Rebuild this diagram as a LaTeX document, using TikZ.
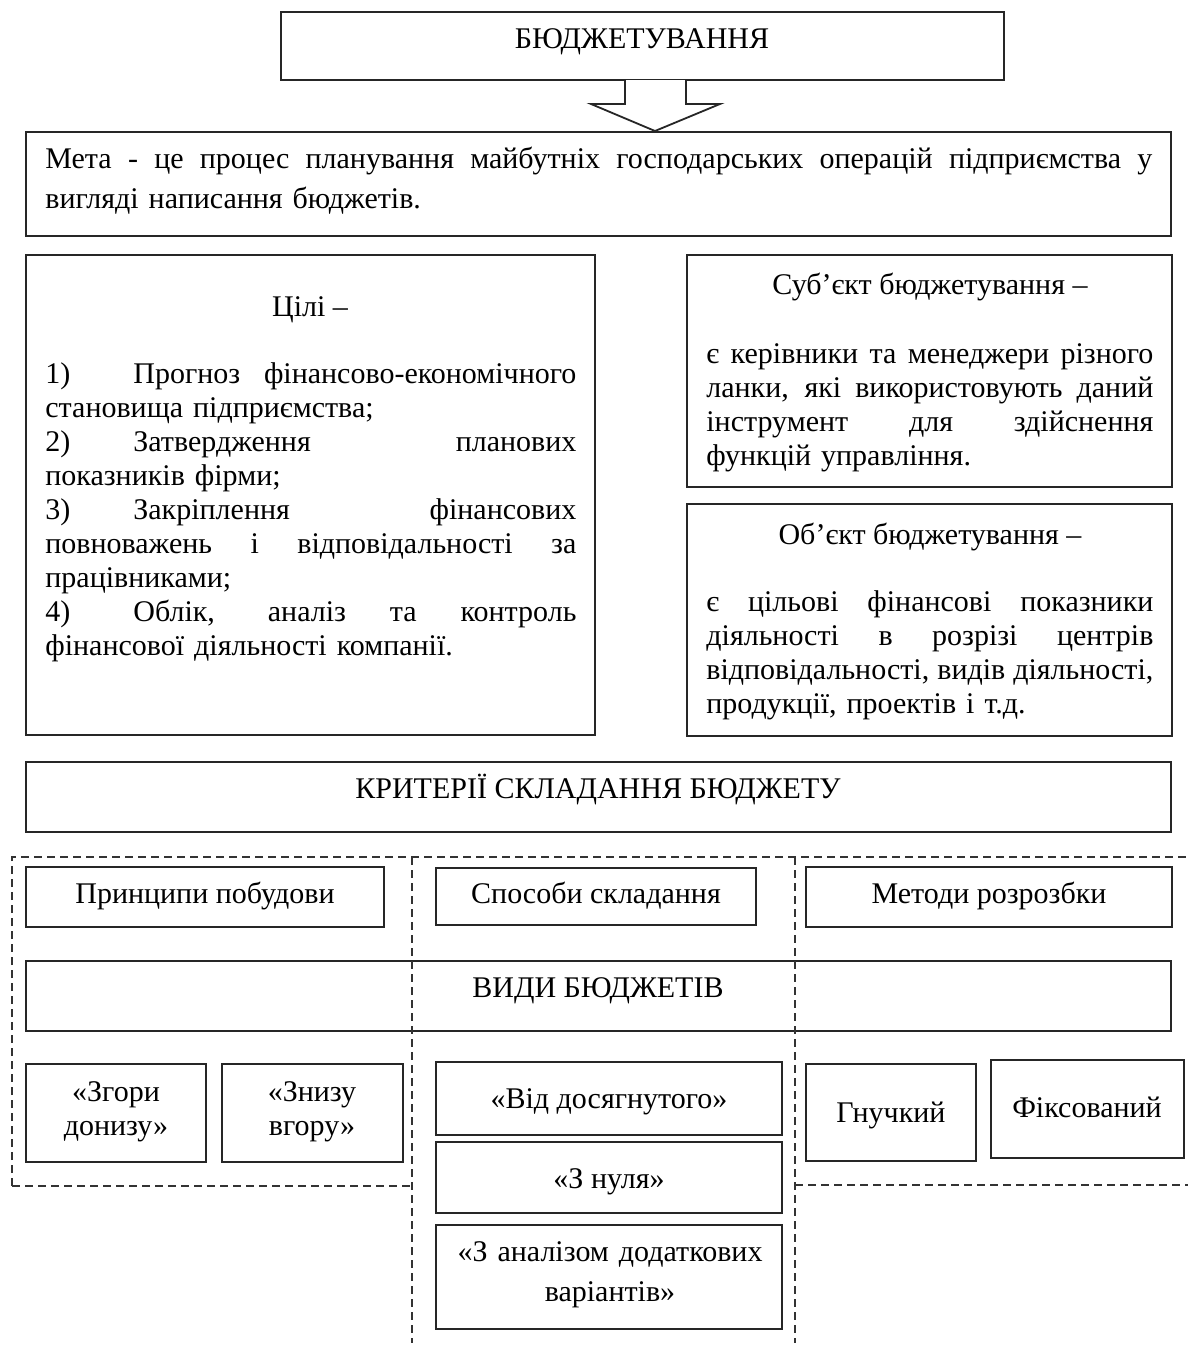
\documentclass[tikz,border=0pt]{standalone}
\usepackage{fontspec}
\setmainfont{Liberation Serif}
\usetikzlibrary{fit}
\newcommand\JL[1]{\noindent\hbox to\linewidth{\spaceskip=.25em plus 1fil\relax #1}\par}
\newcommand\LL[1]{\noindent\hbox to\linewidth{#1\hfil}\par}
\newcommand\TB[1]{\makebox[44pt][l]{#1}}
\tikzset{
  box/.style={draw=black!85, line width=1pt, inner sep=0pt},
  txt/.style={inner sep=0pt, font=\fontsize{15}{17}\selectfont},
  dsh/.style={draw=black!80, line width=0.7pt, dash pattern=on 4pt off 2.5pt},
  arr/.style={draw=black!85, line width=0.9pt, fill=white, line join=miter}
}
\begin{document}
\begin{tikzpicture}[x=0.5pt,y=-0.5pt]
\useasboundingbox (0,0) rectangle (1188,1349);

% top
\node[box, fit={(281,12)(1004,80)}] (b0) {};
\node[txt, anchor=base] (t0) at (642,48) {БЮДЖЕТУВАННЯ};

% goal
\node[box, fit={(26,132)(1171,236)}] (b1) {};
\node[txt, anchor=base west, text width=553.5pt, font=\fontsize{15}{20}\selectfont] (t1) at (45,168)
  {\JL{Мета - це процес планування майбутніх господарських операцій підприємства у}\LL{вигляді написання бюджетів.}};

\coordinate (a0) at (b0.south);
\draw[arr] (625,80) -- (625,104) -- (591,104) -- (655,131) -- (720,104) -- (686,104) -- (686,80);

% goals box
\node[box, fit={(26,255)(595,735)}] (b2) {};
\node[txt, anchor=base] (t2h) at (310,316) {Цілі –};
\node[txt, anchor=base west, text width=265.5pt] (t2) at (45,383)
  {\JL{\TB{1)}Прогноз фінансово-економічного}%
   \LL{становища підприємства;}%
   \JL{\TB{2)}Затвердження планових}%
   \LL{показників фірми;}%
   \JL{\TB{3)}Закріплення фінансових}%
   \JL{повноважень і відповідальності за}%
   \LL{працівниками;}%
   \JL{\TB{4)}Облік, аналіз та контроль}%
   \LL{фінансової діяльності компанії.}};

% subject
\node[box, fit={(687,255)(1172,487)}] (b3) {};
\node[txt, anchor=base] (t3h) at (930,294) {Суб’єкт бюджетування –};
\node[txt, anchor=base west, text width=223.5pt] (t3) at (706,363)
  {\JL{є керівники та менеджери різного}%
   \JL{ланки, які використовують даний}%
   \JL{інструмент для здійснення}%
   \LL{функцій управління.}};

% object
\node[box, fit={(687,504)(1172,736)}] (b4) {};
\node[txt, anchor=base] (t4h) at (930,544) {Об’єкт бюджетування –};
\node[txt, anchor=base west, text width=223.5pt] (t4) at (706,611)
  {\JL{є цільові фінансові показники}%
   \JL{діяльності в розрізі центрів}%
   \JL{відповідальності, видів діяльності,}%
   \LL{продукції, проектів і т.д.}};

% criteria
\node[box, fit={(26,762)(1171,832)}] (b5) {};
\node[txt, anchor=base] (t5) at (598,798) {КРИТЕРІЇ СКЛАДАННЯ БЮДЖЕТУ};

\node[box, fit={(26,867)(384,927)}] (b6) {};
\node[txt, anchor=base] (t6) at (205,903) {Принципи побудови};
\node[box, fit={(436,868)(756,925)}] (b7) {};
\node[txt, anchor=base] (t7) at (596,903) {Способи складання};
\node[box, fit={(806,867)(1172,927)}] (b8) {};
\node[txt, anchor=base] (t8) at (989,903) {Методи розрозбки};

\node[box, fit={(26,961)(1171,1031)}] (b9) {};
\node[txt, anchor=base] (t9) at (598,997) {ВИДИ БЮДЖЕТІВ};

\node[box, fit={(26,1064)(206,1162)}] (b10) {};
\node[txt, anchor=base, text width=85pt, align=center] (t10) at (116,1101) {«Згори\\донизу»};
\node[box, fit={(222,1064)(403,1162)}] (b11) {};
\node[txt, anchor=base, text width=85pt, align=center] (t11) at (312,1101) {«Знизу\\вгору»};

\node[box, fit={(436,1062)(782,1135)}] (b12) {};
\node[txt, anchor=base] (t12) at (609,1108) {«Від досягнутого»};
\node[box, fit={(436,1142)(782,1213)}] (b13) {};
\node[txt, anchor=base] (t13) at (609,1188) {«З нуля»};
\node[box, fit={(436,1225)(782,1329)}] (b14) {};
\node[txt, anchor=base, text width=165pt, align=center, font=\fontsize{15}{20}\selectfont] (t14) at (610,1261) {«З аналізом додаткових\\варіантів»};

\node[box, fit={(806,1064)(976,1161)}] (b15) {};
\node[txt, anchor=base] (t15) at (891,1122) {Гнучкий};
\node[box, fit={(991,1060)(1184,1158)}] (b16) {};
\node[txt, anchor=base] (t16) at (1087,1117) {Фіксований};

% dashed frames
\draw[dsh] (12,1186) -- (12,857) -- (1188,857);
\draw[dsh] (12,1186) -- (412,1186);
\draw[dsh] (412,857) -- (412,1343);
\draw[dsh] (795,857) -- (795,1343);
\draw[dsh] (795,1185) -- (1188,1185);
\end{tikzpicture}
\end{document}
